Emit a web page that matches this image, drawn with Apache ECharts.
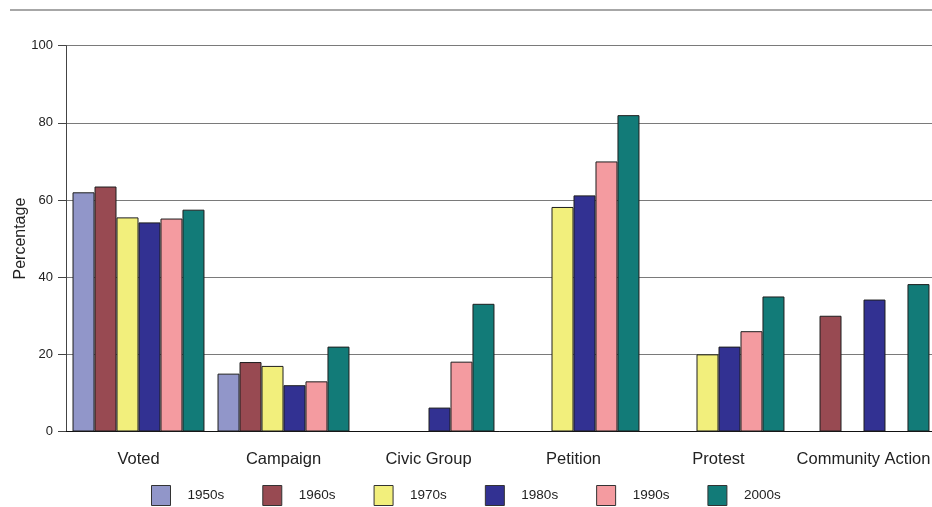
<!DOCTYPE html>
<html>
<head>
<meta charset="utf-8">
<script src="https://cdn.jsdelivr.net/npm/echarts@6/dist/echarts.min.js"></script>
<style>html,body{margin:0;padding:0;background:#fff}#c{width:932px;height:507px}</style>
</head>
<body>
<div id="c"></div>
<script>
var categories = ['Voted', 'Campaign', 'Civic Group', 'Petition', 'Protest', 'Community Action'];
var decades = ['1950s', '1960s', '1970s', '1980s', '1990s', '2000s'];
var s1950 = [62, 15, null, null, null, null];
var s1960 = [63.5, 18, null, null, null, 30];
var s1970 = [55.5, 17, null, 58.2, 20, null];
var s1980 = [54.2, 12, 6.2, 61.2, 22, 34.2];
var s1990 = [55.2, 13, 18.1, 70, 26, null];
var s2000 = [57.5, 22, 33.1, 82, 35, 38.2];
var yTicks = [0, 20, 40, 60, 80, 100];
var colors = ['#9196C9', '#984A52', '#F2EF7C', '#323192', '#F49BA0', '#127B78'];
var seriesData = [s1950, s1960, s1970, s1980, s1990, s2000];

var font = 'Liberation Sans, Arial, Helvetica, sans-serif';
var chart = echarts.init(document.getElementById('c'), null, {renderer: 'canvas'});
chart.setOption({
  animation: false,
  color: colors,
  graphic: [{
    type: 'line', shape: {x1: 10, y1: 10, x2: 932, y2: 10},
    style: {stroke: '#8a8a8a', lineWidth: 1.5}, silent: true
  }],
  grid: {left: 66, top: 45.7, width: 870, bottom: 75.5, containLabel: false, outerBoundsMode: 'none'},
  legend: {
    data: decades, left: 151, top: 485, padding: 0, itemWidth: 19, itemHeight: 20, itemGap: 38,
    icon: 'rect',
    itemStyle: {borderColor: '#333', borderWidth: 1},
    textStyle: {fontFamily: font, fontSize: 13.5, color: '#222', padding: [0, 0, 0, 12]}
  },
  xAxis: {
    type: 'category', data: categories, boundaryGap: true,
    axisLine: {lineStyle: {color: '#111', width: 1}},
    axisTick: {alignWithLabel: true, length: 9, lineStyle: {color: '#333'}},
    axisLabel: {fontFamily: font, fontSize: 16.5, color: '#222', margin: 19, interval: 0}
  },
  yAxis: {
    type: 'value', min: 0, max: 100, interval: 20,
    name: 'Percentage', nameLocation: 'middle', nameGap: 37, nameRotate: 90,
    nameMoveOverlap: false,
    nameTextStyle: {fontFamily: font, fontSize: 16, color: '#222'},
    axisLine: {show: true, lineStyle: {color: '#444'}},
    axisTick: {show: true, length: 8, lineStyle: {color: '#444'}},
    axisLabel: {fontFamily: font, fontSize: 13, color: '#222', margin: 13,
      formatter: function (v) { return yTicks.indexOf(v) >= 0 ? String(v) : ''; }},
    splitLine: {lineStyle: {color: '#7a7a7a', width: 1.2}}
  },
  series: seriesData.map(function (d, i) {
    return {
      name: decades[i], type: 'bar', data: d, barGap: '0%', barCategoryGap: '9%',
      itemStyle: {color: colors[i], borderColor: '#1e1e1e', borderWidth: 1}
    };
  })
});
</script>
</body>
</html>
